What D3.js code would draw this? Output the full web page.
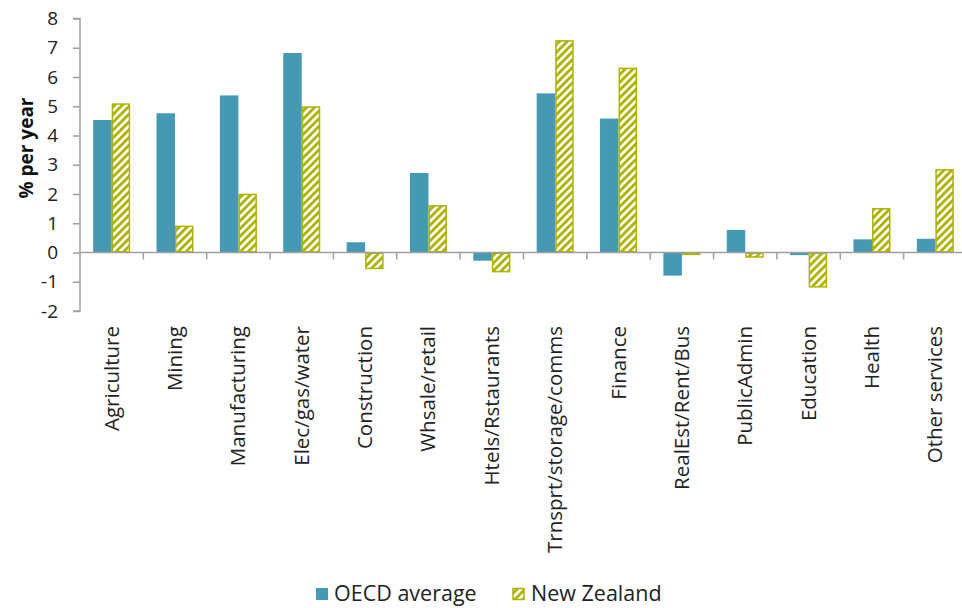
<!DOCTYPE html>
<html><head><meta charset="utf-8">
<script src="https://cdn.jsdelivr.net/npm/d3@7"></script>
<style>body{margin:0;background:#fff;} text{font-family:"Open Sans","Noto Sans",sans-serif;}</style>
</head><body>
<svg id="c" width="962" height="608"></svg>
<script>
const categories = ["Agriculture","Mining","Manufacturing","Elec/gas/water","Construction","Whsale/retail","Htels/Rstaurants","Trnsprt/storage/comms","Finance","RealEst/Rent/Bus","PublicAdmin","Education","Health","Other services"];
const oecd = [4.53,4.76,5.37,6.82,0.35,2.72,-0.28,5.44,4.58,-0.79,0.77,-0.09,0.45,0.47];
const nz   = [5.10,0.92,2.01,5.00,-0.57,1.62,-0.68,7.26,6.32,-0.09,-0.18,-1.20,1.52,2.85];
const yTicks = [-2,-1,0,1,2,3,4,5,6,7,8];
const seriesNames = ["OECD average","New Zealand"];

const svg = d3.select("#c");
const blue = "#4599b5", olive = "#aeb300";
const defs = svg.append("defs");
const pat = defs.append("pattern").attr("id","hatch").attr("patternUnits","userSpaceOnUse")
  .attr("width",5.5).attr("height",5.5).attr("patternTransform","rotate(45)");
pat.append("rect").attr("width",5.5).attr("height",5.5).attr("fill","#fff");
pat.append("rect").attr("x",0).attr("y",0).attr("width",2.8).attr("height",5.5).attr("fill",olive);

const x = d3.scaleBand().domain(categories).range([80,967]).paddingInner(0).paddingOuter(0);
const y = d3.scaleLinear().domain([-2,8]).range([311,18.5]);
const bw = 18.5;

// axes
const yAxis = svg.append("g").attr("transform","translate(80,0)")
  .call(d3.axisLeft(y).tickValues(yTicks).tickSize(7).tickFormat(d => String(d)));
yAxis.select(".domain").attr("stroke","#a0a0a0").attr("stroke-width",1.5).attr("d","M-7,18.5H0V311H-7");
yAxis.selectAll(".tick line").attr("stroke","#a0a0a0").attr("stroke-width",1.5);
yAxis.selectAll(".tick text").attr("font-size",19).attr("fill","#222").attr("x",-22)
  .attr("font-family","'Open Sans',sans-serif");

const g = svg.append("g");
categories.forEach((c,i)=>{
  const cx = x(c) + x.bandwidth()/2;
  g.append("rect").attr("x",cx-bw).attr("width",bw)
   .attr("y",y(Math.max(0,oecd[i]))).attr("height",Math.abs(y(oecd[i])-y(0)))
   .attr("fill",blue);
  g.append("rect").attr("x",cx+0.75).attr("width",bw-1.5)
   .attr("y",y(Math.max(0,nz[i]))+0.75).attr("height",Math.max(0,Math.abs(y(nz[i])-y(0))-1.5))
   .attr("fill","url(#hatch)").attr("stroke",olive).attr("stroke-width",1.5);
});

const xAxis = svg.append("g").attr("transform",`translate(0,${y(0)})`);
xAxis.append("line").attr("x1",80).attr("x2",967).attr("y1",0).attr("y2",0).attr("stroke","#a0a0a0").attr("stroke-width",1.5);
categories.forEach((c,i)=>{
  const xr = x(c)+x.bandwidth();
  xAxis.append("line").attr("x1",xr).attr("x2",xr).attr("y1",0).attr("y2",7).attr("stroke","#a0a0a0").attr("stroke-width",1.5);
});
categories.forEach((c)=>{
  const cx = x(c)+x.bandwidth()/2;
  svg.append("text").attr("transform",`translate(${cx+7},326) rotate(-90)`)
    .attr("text-anchor","end").attr("font-size",20.5).attr("fill","#222").text(c);
});

svg.append("text").attr("transform","translate(33,148) rotate(-90)")
  .attr("text-anchor","middle").attr("font-size",19).attr("font-weight","bold").attr("fill","#111").text("% per year");

// legend
const lg = svg.append("g");
lg.append("rect").attr("x",316).attr("y",588).attr("width",12).attr("height",12).attr("fill",blue);
lg.append("text").attr("x",334).attr("y",601).attr("font-size",21.5).attr("fill","#222").text(seriesNames[0]);
lg.append("rect").attr("x",513).attr("y",588.5).attr("width",11).attr("height",11).attr("fill","url(#hatch)").attr("stroke",olive).attr("stroke-width",1.5);
lg.append("text").attr("x",531).attr("y",601).attr("font-size",21.5).attr("fill","#222").text(seriesNames[1]);
</script>
</body></html>
